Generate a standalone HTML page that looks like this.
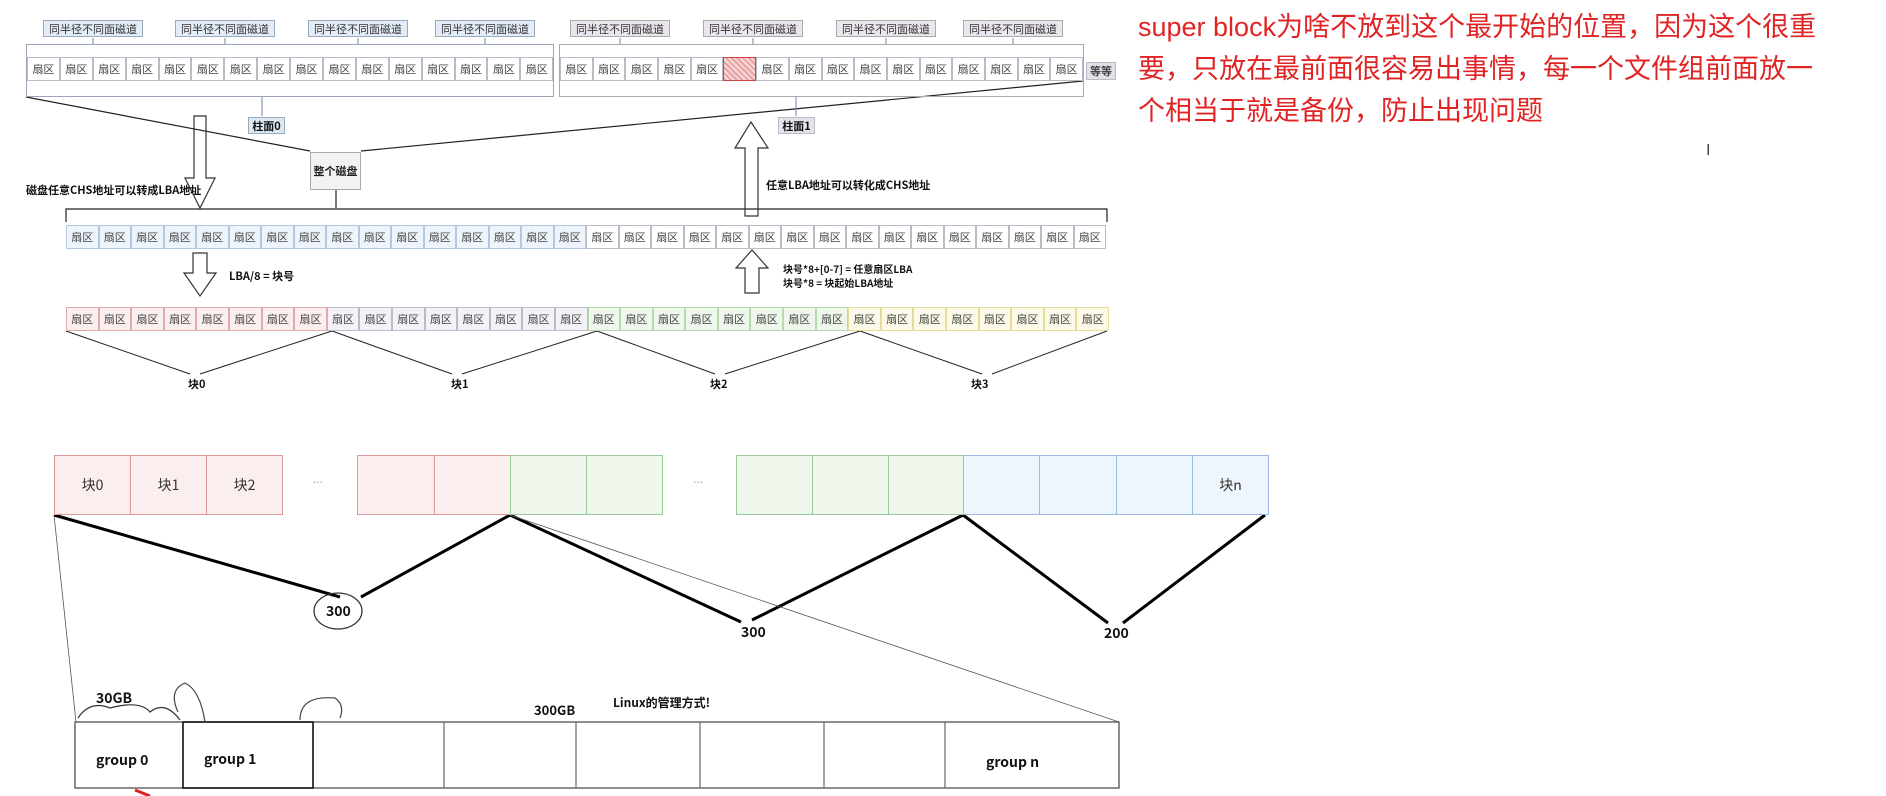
<!DOCTYPE html>
<html><head><meta charset="utf-8"><style>
body{margin:0;width:1886px;height:796px;background:#fff;position:relative;overflow:hidden;font-family:"Liberation Sans","Noto Sans CJK SC",sans-serif}
.a{position:absolute}
.g{position:absolute;top:44px;height:53px;border:1px solid #9aa6b8;box-sizing:border-box}
.row{position:absolute;display:flex}
.s{box-sizing:border-box;border:1px solid #b8bcc6;font-size:11px;color:#444;display:flex;align-items:center;justify-content:center;font-family:"Noto Sans CJK SC",sans-serif;flex:none}
.lb{position:absolute;top:20px;height:17px;font-size:11px;color:#333;display:flex;align-items:center;justify-content:center;border:1px solid #9ab;box-sizing:border-box;font-family:"Noto Sans CJK SC",sans-serif;white-space:nowrap}
.t{position:absolute;font-family:"Noto Sans CJK SC",sans-serif;font-weight:bold;color:#111;white-space:nowrap}
.B{position:absolute;top:455px;height:60px;box-sizing:border-box;border:1px solid;display:flex;align-items:center;justify-content:center;font-size:14px;font-family:"Noto Sans CJK SC",sans-serif;color:#333}
.r1 .s{width:32.9px}.r2 .s{width:32.7px}
</style></head><body>
<svg class="a" style="left:0;top:0" width="1886" height="796">
<g stroke="#222" fill="none" stroke-width="1.2">
<line x1="26" y1="97" x2="310" y2="151"/><line x1="1083" y1="81" x2="361" y2="151"/>
<line x1="336" y1="190" x2="336" y2="208"/>
<polyline points="66,222 66,209 1107,209 1107,222"/>
<polygon points="194,116 206,116 206,178 215,178 200,208 185,178 194,178" stroke="#333"/>
<polygon points="745,216 758,216 758,148 768,148 751,122 735,148 745,148" stroke="#333"/>
<polygon points="193,253 207,253 207,273 216,273 200,296 184,273 193,273" stroke="#333"/>
<polygon points="745,293 759,293 759,268 768,268 752,250 736,268 745,268" stroke="#333"/>
<g stroke-width="1"><line x1="66" y1="331" x2="190" y2="374"/><line x1="332" y1="331" x2="200" y2="374"/>
<line x1="332" y1="331" x2="452" y2="374"/><line x1="597" y1="331" x2="462" y2="374"/>
<line x1="597" y1="331" x2="715" y2="374"/><line x1="860" y1="331" x2="725" y2="374"/>
<line x1="860" y1="331" x2="982" y2="374"/><line x1="1107" y1="331" x2="992" y2="374"/></g>
<g stroke="#000" stroke-width="3"><line x1="54" y1="515" x2="340" y2="597"/><line x1="361" y1="597" x2="510" y2="515"/>
<line x1="510" y1="515" x2="741" y2="622"/><line x1="752" y1="620" x2="963" y2="515"/>
<line x1="963" y1="515" x2="1108" y2="623"/><line x1="1123" y1="623" x2="1265" y2="515"/></g>
<g stroke="#555" stroke-width="0.8"><line x1="54" y1="515" x2="76" y2="722"/><line x1="510" y1="515" x2="1119" y2="722"/></g>
<ellipse cx="338" cy="611" rx="24" ry="18" stroke="#333"/>
<rect x="75" y="722" width="1044" height="66" stroke="#444"/>
<rect x="183" y="722" width="130" height="66" stroke="#111" stroke-width="1.6"/>
<g stroke="#666"><line x1="444" y1="722" x2="444" y2="788"/><line x1="576" y1="722" x2="576" y2="788"/><line x1="700" y1="722" x2="700" y2="788"/><line x1="824" y1="722" x2="824" y2="788"/><line x1="945" y1="722" x2="945" y2="788"/></g>
<path d="M78 718 Q90 700 110 708 Q140 700 150 712 Q165 700 180 720" stroke="#333"/>
<path d="M178 712 Q168 690 185 683 Q200 690 205 722" stroke="#444"/>
<path d="M300 720 Q300 695 335 698 Q345 705 340 718" stroke="#444"/>
<path d="M135 790 L150 796" stroke="#d22" stroke-width="3"/>
</g>
<g stroke="#6a85a8" stroke-width="1"><line x1="93" y1="44" x2="93" y2="38"/><line x1="225" y1="44" x2="225" y2="38"/><line x1="358" y1="44" x2="358" y2="38"/><line x1="485" y1="44" x2="485" y2="38"/><line x1="620" y1="44" x2="620" y2="38"/><line x1="753" y1="44" x2="753" y2="38"/><line x1="886" y1="44" x2="886" y2="38"/><line x1="1013" y1="44" x2="1013" y2="38"/><line x1="262" y1="97" x2="262" y2="116"/><line x1="796" y1="97" x2="796" y2="116"/></g>
</svg>
<div class="lb" style="left:43px;width:100px;background:#e3ecf7">同半径不同面磁道</div>
<div class="lb" style="left:175px;width:100px;background:#e3ecf7">同半径不同面磁道</div>
<div class="lb" style="left:308px;width:100px;background:#e3ecf7">同半径不同面磁道</div>
<div class="lb" style="left:435px;width:100px;background:#e3ecf7">同半径不同面磁道</div>
<div class="lb" style="left:570px;width:100px;background:#ebe6ee;border-color:#aaa">同半径不同面磁道</div>
<div class="lb" style="left:703px;width:100px;background:#ebe6ee;border-color:#aaa">同半径不同面磁道</div>
<div class="lb" style="left:836px;width:100px;background:#ebe6ee;border-color:#aaa">同半径不同面磁道</div>
<div class="lb" style="left:963px;width:100px;background:#ebe6ee;border-color:#aaa">同半径不同面磁道</div>
<div class="g" style="left:26px;width:528px"></div>
<div class="g" style="left:559px;width:525px;border-color:#aaa"></div>
<div class="row r1" style="left:27px;top:57px;height:24px"><div class="s">扇区</div><div class="s">扇区</div><div class="s">扇区</div><div class="s">扇区</div><div class="s">扇区</div><div class="s">扇区</div><div class="s">扇区</div><div class="s">扇区</div><div class="s">扇区</div><div class="s">扇区</div><div class="s">扇区</div><div class="s">扇区</div><div class="s">扇区</div><div class="s">扇区</div><div class="s">扇区</div><div class="s">扇区</div></div>
<div class="row r2" style="left:560px;top:57px;height:24px"><div class="s">扇区</div><div class="s">扇区</div><div class="s">扇区</div><div class="s">扇区</div><div class="s">扇区</div><div class="s" style="background:repeating-linear-gradient(45deg,#e8a0a0 0 2px,#f6dada 2px 4px);border-color:#c44"></div><div class="s">扇区</div><div class="s">扇区</div><div class="s">扇区</div><div class="s">扇区</div><div class="s">扇区</div><div class="s">扇区</div><div class="s">扇区</div><div class="s">扇区</div><div class="s">扇区</div><div class="s">扇区</div></div>
<div class="s a" style="left:1086px;top:62px;width:30px;height:18px;background:#e4e0e8;font-weight:bold">等等</div>
<div class="s a" style="left:248px;top:117px;width:37px;height:17px;background:#dde8f5;border-color:#9ab;font-weight:bold;color:#111">柱面0</div>
<div class="s a" style="left:778px;top:117px;width:37px;height:17px;background:#e6e2ea;font-weight:bold;color:#111">柱面1</div>
<div class="s a" style="left:310px;top:152px;width:51px;height:38px;background:#f2f2f2;border-color:#aaa;font-weight:bold;color:#222">整个磁盘</div>
<div class="t" style="left:26px;top:182px;font-size:11px">磁盘任意CHS地址可以转成LBA地址</div>
<div class="t" style="left:766px;top:177px;font-size:11px">任意LBA地址可以转化成CHS地址</div>
<div class="t" style="left:229px;top:268px;font-size:11px">LBA/8 = 块号</div>
<div class="t" style="left:783px;top:262px;font-size:10px;line-height:14px">块号*8+[0-7] = 任意扇区LBA<br>块号*8 = 块起始LBA地址</div>
<div class="row" style="left:66px;top:225px;height:24px"><div class="s" style="width:32.5px;background:#eef4fb;border-color:#b5c8de">扇区</div><div class="s" style="width:32.5px;background:#eef4fb;border-color:#b5c8de">扇区</div><div class="s" style="width:32.5px;background:#eef4fb;border-color:#b5c8de">扇区</div><div class="s" style="width:32.5px;background:#eef4fb;border-color:#b5c8de">扇区</div><div class="s" style="width:32.5px;background:#eef4fb;border-color:#b5c8de">扇区</div><div class="s" style="width:32.5px;background:#eef4fb;border-color:#b5c8de">扇区</div><div class="s" style="width:32.5px;background:#eef4fb;border-color:#b5c8de">扇区</div><div class="s" style="width:32.5px;background:#eef4fb;border-color:#b5c8de">扇区</div><div class="s" style="width:32.5px;background:#eef4fb;border-color:#b5c8de">扇区</div><div class="s" style="width:32.5px;background:#eef4fb;border-color:#b5c8de">扇区</div><div class="s" style="width:32.5px;background:#eef4fb;border-color:#b5c8de">扇区</div><div class="s" style="width:32.5px;background:#eef4fb;border-color:#b5c8de">扇区</div><div class="s" style="width:32.5px;background:#eef4fb;border-color:#b5c8de">扇区</div><div class="s" style="width:32.5px;background:#eef4fb;border-color:#b5c8de">扇区</div><div class="s" style="width:32.5px;background:#eef4fb;border-color:#b5c8de">扇区</div><div class="s" style="width:32.5px;background:#eef4fb;border-color:#b5c8de">扇区</div><div class="s" style="width:32.5px">扇区</div><div class="s" style="width:32.5px">扇区</div><div class="s" style="width:32.5px">扇区</div><div class="s" style="width:32.5px">扇区</div><div class="s" style="width:32.5px">扇区</div><div class="s" style="width:32.5px">扇区</div><div class="s" style="width:32.5px">扇区</div><div class="s" style="width:32.5px">扇区</div><div class="s" style="width:32.5px">扇区</div><div class="s" style="width:32.5px">扇区</div><div class="s" style="width:32.5px">扇区</div><div class="s" style="width:32.5px">扇区</div><div class="s" style="width:32.5px">扇区</div><div class="s" style="width:32.5px">扇区</div><div class="s" style="width:32.5px">扇区</div><div class="s" style="width:32.5px">扇区</div></div>
<div class="row" style="left:66px;top:307px;height:24px"><div class="s" style="width:32.6px;background:#fbeeee;border-color:#e0aaaa">扇区</div><div class="s" style="width:32.6px;background:#fbeeee;border-color:#e0aaaa">扇区</div><div class="s" style="width:32.6px;background:#fbeeee;border-color:#e0aaaa">扇区</div><div class="s" style="width:32.6px;background:#fbeeee;border-color:#e0aaaa">扇区</div><div class="s" style="width:32.6px;background:#fbeeee;border-color:#e0aaaa">扇区</div><div class="s" style="width:32.6px;background:#fbeeee;border-color:#e0aaaa">扇区</div><div class="s" style="width:32.6px;background:#fbeeee;border-color:#e0aaaa">扇区</div><div class="s" style="width:32.6px;background:#fbeeee;border-color:#e0aaaa">扇区</div><div class="s" style="width:32.6px;background:#f4f2f7">扇区</div><div class="s" style="width:32.6px;background:#f4f2f7">扇区</div><div class="s" style="width:32.6px;background:#f4f2f7">扇区</div><div class="s" style="width:32.6px;background:#f4f2f7">扇区</div><div class="s" style="width:32.6px;background:#f4f2f7">扇区</div><div class="s" style="width:32.6px;background:#f4f2f7">扇区</div><div class="s" style="width:32.6px;background:#f4f2f7">扇区</div><div class="s" style="width:32.6px;background:#f4f2f7">扇区</div><div class="s" style="width:32.6px;background:#eff7ec;border-color:#b8d8ae">扇区</div><div class="s" style="width:32.6px;background:#eff7ec;border-color:#b8d8ae">扇区</div><div class="s" style="width:32.6px;background:#eff7ec;border-color:#b8d8ae">扇区</div><div class="s" style="width:32.6px;background:#eff7ec;border-color:#b8d8ae">扇区</div><div class="s" style="width:32.6px;background:#eff7ec;border-color:#b8d8ae">扇区</div><div class="s" style="width:32.6px;background:#eff7ec;border-color:#b8d8ae">扇区</div><div class="s" style="width:32.6px;background:#eff7ec;border-color:#b8d8ae">扇区</div><div class="s" style="width:32.6px;background:#eff7ec;border-color:#b8d8ae">扇区</div><div class="s" style="width:32.6px;background:#fcf9e8;border-color:#e6dc9a">扇区</div><div class="s" style="width:32.6px;background:#fcf9e8;border-color:#e6dc9a">扇区</div><div class="s" style="width:32.6px;background:#fcf9e8;border-color:#e6dc9a">扇区</div><div class="s" style="width:32.6px;background:#fcf9e8;border-color:#e6dc9a">扇区</div><div class="s" style="width:32.6px;background:#fcf9e8;border-color:#e6dc9a">扇区</div><div class="s" style="width:32.6px;background:#fcf9e8;border-color:#e6dc9a">扇区</div><div class="s" style="width:32.6px;background:#fcf9e8;border-color:#e6dc9a">扇区</div><div class="s" style="width:32.6px;background:#fcf9e8;border-color:#e6dc9a">扇区</div></div>
<div class="t" style="left:188px;top:376px;font-size:11px">块0</div>
<div class="t" style="left:451px;top:376px;font-size:11px">块1</div>
<div class="t" style="left:710px;top:376px;font-size:11px">块2</div>
<div class="t" style="left:971px;top:376px;font-size:11px">块3</div>
<div class="B" style="left:54px;width:77px;background:#fbeeee;border-color:#d99">块0</div>
<div class="B" style="left:130px;width:77px;background:#fbeeee;border-color:#d99">块1</div>
<div class="B" style="left:206px;width:77px;background:#fbeeee;border-color:#d99">块2</div>
<div class="t" style="left:313px;top:474px;font-size:10px;font-weight:normal;color:#888">…</div>
<div class="B" style="left:357px;width:78px;background:#fbeeee;border-color:#d99"></div>
<div class="B" style="left:434px;width:77px;background:#fbeeee;border-color:#d99"></div>
<div class="B" style="left:510px;width:77px;background:#eff7ec;border-color:#9c9"></div>
<div class="B" style="left:586px;width:77px;background:#eff7ec;border-color:#9c9"></div>
<div class="t" style="left:693px;top:474px;font-size:10px;font-weight:normal;color:#888">…</div>
<div class="B" style="left:736px;width:77px;background:#eff7ec;border-color:#9c9"></div>
<div class="B" style="left:812px;width:77px;background:#eff7ec;border-color:#9c9"></div>
<div class="B" style="left:888px;width:76px;background:#eff7ec;border-color:#9c9"></div>
<div class="B" style="left:963px;width:77px;background:#eef5fc;border-color:#9bd"></div>
<div class="B" style="left:1039px;width:78px;background:#eef5fc;border-color:#9bd"></div>
<div class="B" style="left:1116px;width:77px;background:#eef5fc;border-color:#9bd"></div>
<div class="B" style="left:1192px;width:77px;background:#eef5fc;border-color:#9bd">块n</div>
<div class="t" style="left:326px;top:601px;font-size:14px">300</div>
<div class="t" style="left:741px;top:622px;font-size:14px">300</div>
<div class="t" style="left:1104px;top:623px;font-size:14px">200</div>
<div class="t" style="left:96px;top:688px;font-size:14px">30GB</div>
<div class="t" style="left:534px;top:700px;font-size:13px">300GB</div>
<div class="t" style="left:613px;top:694px;font-size:12px">Linux的管理方式!</div>
<div class="t" style="left:96px;top:750px;font-size:14px">group 0</div>
<div class="t" style="left:204px;top:749px;font-size:14px">group 1</div>
<div class="t" style="left:986px;top:752px;font-size:14px">group n</div>
<div class="a" style="left:1138px;top:6px;font-size:27px;line-height:42px;color:#e02424;font-family:'Liberation Sans','Noto Sans CJK SC',sans-serif;white-space:nowrap">super block为啥不放到这个最开始的位置，因为这个很重<br>要，只放在最前面很容易出事情，每一个文件组前面放一<br>个相当于就是备份，防止出现问题</div>
<div class="a" style="left:1706px;top:142px;font-size:16px;color:#444">I</div>
</body></html>
